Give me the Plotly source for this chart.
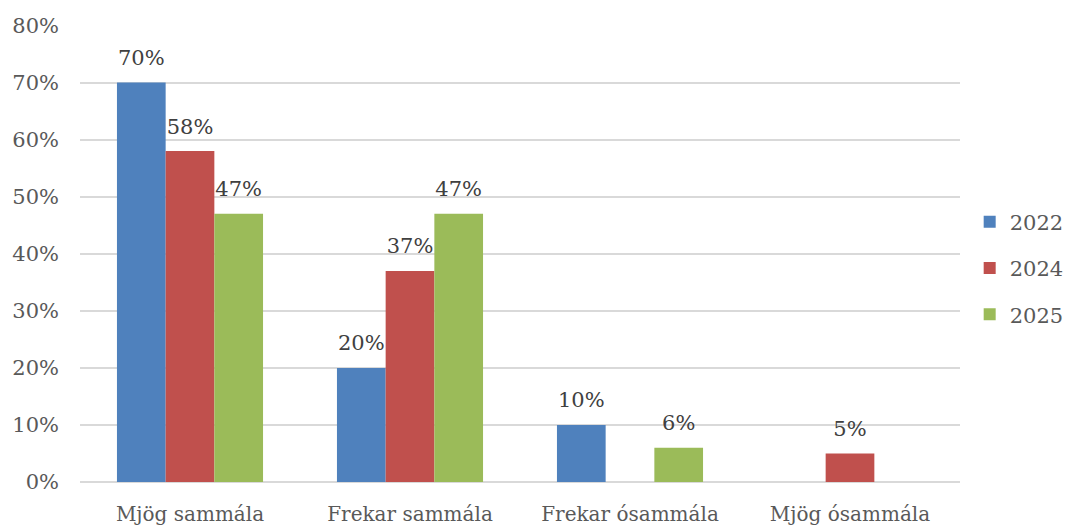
import plotly.graph_objects as go

categories = ["Mjög sammála", "Frekar sammála", "Frekar ósammála", "Mjög ósammála"]
years = ["2022", "2024", "2025"]
values_2022 = [0.70, 0.20, 0.10, None]
values_2024 = [0.58, 0.37, None, 0.05]
values_2025 = [0.47, 0.47, 0.06, None]

colors = ["#4F81BD", "#C0504D", "#9BBB59"]
font_family = "DejaVu Serif"
text_color = "#595959"

fig = go.Figure()
for year, vals, col in zip(years, [values_2022, values_2024, values_2025], colors):
    fig.add_trace(go.Bar(x=categories, y=vals, name=year, marker_color=col,
                         marker_line_width=0, legendgroup=year, offsetgroup=year))
# value labels above the bars, grouped like the bars
for year, vals in zip(years, [values_2022, values_2024, values_2025]):
    labels = ["" if v is None else f"{round(v * 100)}%" for v in vals]
    fig.add_trace(go.Scatter(x=categories, y=vals, mode="markers+text", text=labels,
                             textposition="top center", offsetgroup=year, showlegend=False,
                             marker=dict(size=18, opacity=0), cliponaxis=False,
                             textfont=dict(size=21, color="#404040", family=font_family),
                             hoverinfo="skip"))

# page body adds 8px top/left, margins are set so the plot area lands where the reference has it
fig.update_layout(
    width=1075, height=526,
    template="plotly_white",
    paper_bgcolor="white", plot_bgcolor="white",
    margin=dict(l=72, r=123, t=17, b=52, autoexpand=False),
    bargap=0.336, bargroupgap=0,
    scattermode="group", scattergap=0.336,
    font=dict(family=font_family, size=20, color=text_color),
    legend=dict(x=1.011, y=0.468, yanchor="middle", xanchor="left",
                tracegroupgap=16, font=dict(size=21, color=text_color)),
    showlegend=True,
)
fig.update_xaxes(showgrid=False, showline=False, ticks="", ticklabelstandoff=18)
fig.update_yaxes(range=[0, 0.801], dtick=0.1, tickformat=".0%",
                 showgrid=True, gridcolor="#D9D9D9", gridwidth=2,
                 zeroline=True, zerolinecolor="#D9D9D9", zerolinewidth=2,
                 showline=False, ticks="", ticklabelstandoff=20,
                 tickfont=dict(size=21))

fig.write_html("out.html")
